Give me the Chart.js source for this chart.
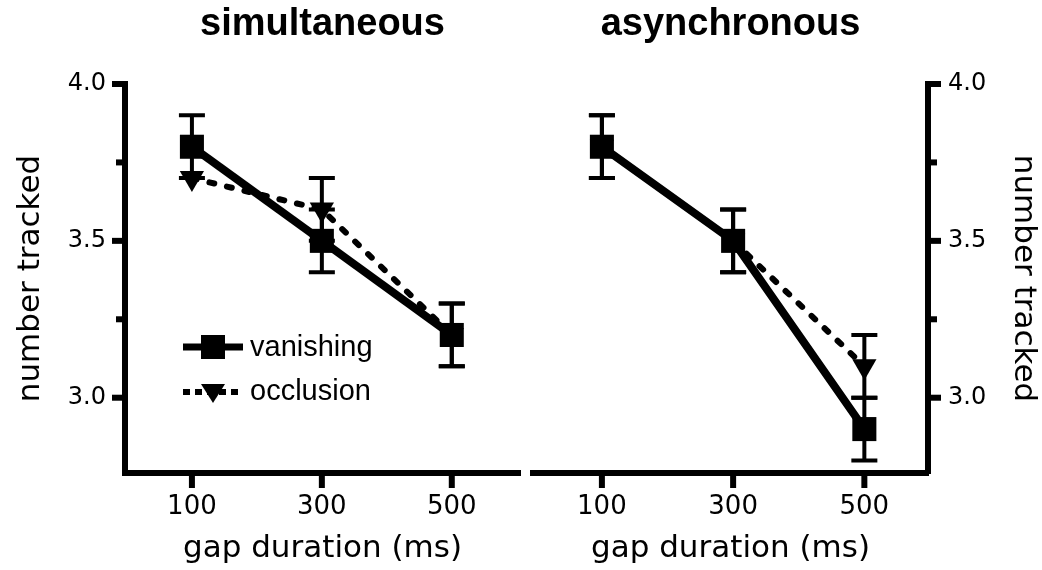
<!DOCTYPE html>
<html><head><meta charset="utf-8">
<script src="https://cdn.jsdelivr.net/npm/chart.js@4.4.0/dist/chart.umd.min.js"></script>
<style>
html,body{margin:0;padding:0;background:#fff;}
#wrap{position:relative;width:1042px;height:570px;overflow:hidden;}
#c1{position:absolute;left:0;top:0;}
#c2{position:absolute;left:527px;top:0;}
</style></head><body>
<div id="wrap"><canvas id="c1" width="527" height="570"></canvas><canvas id="c2" width="515" height="570"></canvas></div>
<script>
// ---- data ----
const gapDurations = [100, 300, 500];
const xTickValues = [100, 300, 500];
const yTickValues = [3.0, 3.5, 4.0];
const yMinorTickValues = [3.25, 3.75];
const panelTitles = ['simultaneous', 'asynchronous'];
const seriesNames = ['vanishing', 'occlusion'];
const xAxisTitle = 'gap duration (ms)';
const yAxisTitle = 'number tracked';
const simVanishing = [3.8, 3.5, 3.2];
const simVanishingErr = [0.1, 0.1, 0.1];
const simOcclusion = [3.7, 3.6, 3.2];
const simOcclusionErr = [0, 0.1, 0.1];
const asyVanishing = [3.8, 3.5, 2.9];
const asyVanishingErr = [0.1, 0.1, 0.1];
const asyOcclusion = [3.8, 3.5, 3.1];
const asyOcclusionErr = [0.1, 0.1, 0.1];

const BLACK = '#000';

const errorBarPlugin = {
  id: 'errorBars',
  beforeDatasetsDraw(chart) {
    const ctx = chart.ctx, xs = chart.scales.x, ys = chart.scales.y;
    ctx.save();
    ctx.strokeStyle = BLACK; ctx.lineWidth = 4; ctx.lineCap = 'butt';
    chart.data.datasets.forEach(ds => {
      ds.errors.forEach((e, j) => {
        if (!e) return;
        const x = xs.getPixelForValue(gapDurations[j]);
        const yT = ys.getPixelForValue(ds.data[j].y + e);
        const yB = ys.getPixelForValue(ds.data[j].y - e);
        ctx.beginPath();
        ctx.moveTo(x, yT); ctx.lineTo(x, yB);
        ctx.moveTo(x - 13, yT); ctx.lineTo(x + 13, yT);
        ctx.moveTo(x - 13, yB); ctx.lineTo(x + 13, yB);
        ctx.stroke();
      });
    });
    ctx.restore();
  }
};

const tickMarkPlugin = {
  id: 'tickMarks',
  afterDraw(chart) {
    const ctx = chart.ctx, xs = chart.scales.x, ys = chart.scales.y;
    const isRight = ys.options.position === 'right';
    const axX = isRight ? ys.left : ys.right;
    const dir = isRight ? 1 : -1;
    ctx.save();
    ctx.fillStyle = BLACK;
    yTickValues.forEach(v => {
      const y = ys.getPixelForValue(v);
      const x1 = axX + dir * 13;
      ctx.fillRect(Math.min(axX, x1), y - 3, 13, 6);
    });
    yMinorTickValues.forEach(v => {
      const y = ys.getPixelForValue(v);
      const x1 = axX + dir * 9;
      ctx.fillRect(Math.min(axX, x1), y - 3, 9, 6);
    });
    xTickValues.forEach(v => {
      const x = xs.getPixelForValue(v);
      ctx.fillRect(x - 3, xs.top, 6, 15);
    });
    ctx.restore();
  }
};

const legendPlugin = {
  id: 'innerLegend',
  afterDraw(chart, args, opts) {
    if (!opts.show) return;
    const ctx = chart.ctx;
    const x0 = 183, x1 = 243, xm = 213, y1 = 347, y2 = 392;
    ctx.save();
    ctx.strokeStyle = BLACK; ctx.fillStyle = BLACK;
    ctx.lineWidth = 7;
    ctx.beginPath(); ctx.moveTo(x0, y1); ctx.lineTo(x1, y1); ctx.stroke();
    ctx.fillRect(xm - 12, y1 - 12, 24, 24);
    ctx.setLineDash([7, 5]);
    ctx.lineWidth = 6;
    ctx.beginPath(); ctx.moveTo(x0, y2); ctx.lineTo(x1, y2); ctx.stroke();
    ctx.setLineDash([]);
    ctx.beginPath();
    ctx.moveTo(xm - 12, y2 - 8); ctx.lineTo(xm + 12, y2 - 8); ctx.lineTo(xm, y2 + 11); ctx.closePath(); ctx.fill();
    ctx.font = '29px "Liberation Sans", Arial, sans-serif';
    ctx.textBaseline = 'alphabetic';
    ctx.fillText(seriesNames[0], 250, 356);
    ctx.fillText(seriesNames[1], 250, 400);
    ctx.restore();
  }
};

function makeChart(canvasId, title, vanishing, vanErr, occlusion, occErr, side) {
  const isRight = side === 'right';
  return new Chart(document.getElementById(canvasId), {
    type: 'line',
    data: {
      datasets: [
        {
          label: seriesNames[0],
          data: gapDurations.map((g, i) => ({x: g, y: vanishing[i]})),
          errors: vanErr,
          borderColor: BLACK, backgroundColor: BLACK, borderWidth: 8,
          pointStyle: 'rect', pointRadius: 17, pointBorderWidth: 0,
          pointBackgroundColor: BLACK, tension: 0
        },
        {
          label: seriesNames[1],
          data: gapDurations.map((g, i) => ({x: g, y: occlusion[i]})),
          errors: occErr,
          borderColor: BLACK, backgroundColor: BLACK, borderWidth: 6,
          borderDash: [5, 13], borderCapStyle: 'round',
          pointStyle: 'triangle', pointRotation: 180, pointRadius: 14, pointBorderWidth: 0,
          pointBackgroundColor: BLACK, tension: 0
        }
      ]
    },
    options: {
      responsive: false, animation: false, devicePixelRatio: 1,
      layout: {autoPadding: false, padding: {left: isRight ? 6 : 0, right: isRight ? 0 : 7, top: 0, bottom: 0}},
      plugins: {
        legend: {display: false}, tooltip: {enabled: false},
        title: {
          display: true, text: title, fullSize: false, color: BLACK,
          font: {family: '"Liberation Sans", Arial, sans-serif', size: 38, weight: 'bold'},
          padding: {top: 2, bottom: 36.4}
        },
        innerLegend: {show: !isRight}
      },
      scales: {
        x: {
          type: 'linear', min: isRight ? -5 : -3, max: isRight ? 597 : 605,
          afterBuildTicks: s => { s.ticks = xTickValues.map(v => ({value: v})); },
          afterFit: s => { s.height = 97; s.paddingLeft = 0; s.paddingRight = 0; },
          grid: {display: false, drawTicks: false},
          border: {display: true, width: 6, color: BLACK},
          ticks: {padding: 18.4, color: BLACK, maxRotation: 0, autoSkip: false,
                  font: {family: '"DejaVu Sans", sans-serif', size: 26},
                  callback: v => String(v)},
          title: {display: true, text: xAxisTitle, color: BLACK,
                  font: {family: '"DejaVu Sans", sans-serif', size: 31},
                  padding: {top: 0, bottom: 2.1}}
        },
        y: {
          type: 'linear', position: side, min: 2.76, max: 4.0,
          afterBuildTicks: s => { s.ticks = yTickValues.map(v => ({value: v})); },
          afterFit: s => { s.width = isRight ? 114 : 125; s.paddingTop = 0; s.paddingBottom = 0; },
          grid: {display: false, drawTicks: false},
          border: {display: true, width: 6, color: BLACK},
          ticks: {padding: isRight ? 20 : 19, color: BLACK,
                  font: {family: '"DejaVu Sans", sans-serif', size: 24},
                  callback: v => Number(v).toFixed(1)},
          title: {display: true, text: yAxisTitle, color: BLACK,
                  font: {family: '"DejaVu Sans", sans-serif', size: 31},
                  padding: {top: isRight ? 0.7 : 12.4, bottom: 0}}
        }
      }
    },
    plugins: [errorBarPlugin, tickMarkPlugin, legendPlugin]
  });
}

makeChart('c1', panelTitles[0], simVanishing, simVanishingErr, simOcclusion, simOcclusionErr, 'left');
makeChart('c2', panelTitles[1], asyVanishing, asyVanishingErr, asyOcclusion, asyOcclusionErr, 'right');
</script>
</body></html>
